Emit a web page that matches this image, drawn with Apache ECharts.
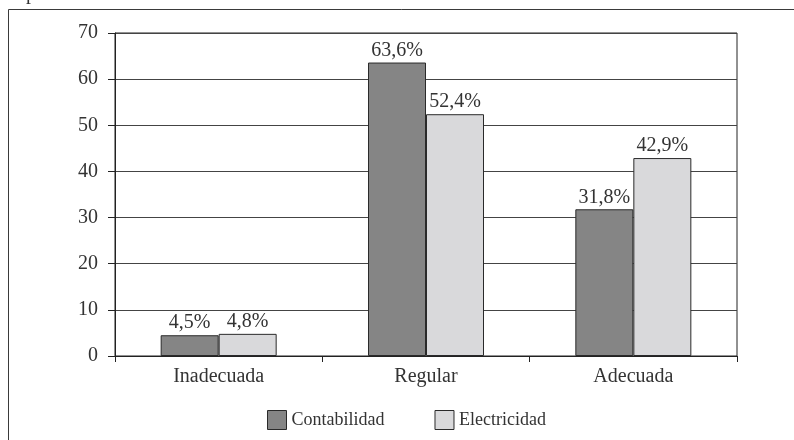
<!DOCTYPE html>
<html>
<head>
<meta charset="utf-8">
<script src="https://cdn.jsdelivr.net/npm/echarts@6/dist/echarts.min.js"></script>
<style>
  html, body { margin: 0; padding: 0; background: #fff; }
  #chart { width: 794px; height: 440px; }
</style>
</head>
<body>
<div id="chart"></div>
<script>
// Valoración por especialidad (%)
const categories = ['Inadecuada', 'Regular', 'Adecuada'];
const contabilidad = [4.5, 63.6, 31.8];
const electricidad = [4.8, 52.4, 42.9];
const yTicks = { min: 0, max: 70, interval: 10 };

const FONT = '"Liberation Serif", "DejaVu Serif", serif';
const fmt = v => String(v).replace('.', ',') + '%';

const chart = echarts.init(document.getElementById('chart'), null, { renderer: 'canvas' });

const labelStyle = {
  show: true,
  position: 'top',
  distance: 2,
  fontFamily: FONT,
  fontSize: 20,
  color: '#333',
  formatter: p => fmt(p.value)
};

chart.setOption({
  animation: false,
  backgroundColor: '#fff',
  graphic: [
    {
      type: 'rect',
      shape: { x: 8.5, y: 9.5, width: 800, height: 450 },
      style: { fill: 'none', stroke: '#3a3a3a', lineWidth: 1 },
      silent: true
    },
    {
      type: 'text',
      left: 26,
      top: -16,
      style: { text: 'p', font: '20px ' + FONT, fill: '#333' },
      silent: true
    }
  ],
  grid: {
    left: 115, right: 57, top: 33, bottom: 84,
    show: true, borderColor: '#222', borderWidth: 1, backgroundColor: 'transparent'
  },
  legend: {
    left: 262,
    top: 405,
    itemWidth: 19,
    itemHeight: 19,
    itemGap: 50,
    icon: 'rect',
    itemStyle: { borderColor: '#2a2a2a', borderWidth: 1 },
    textStyle: { fontFamily: FONT, fontSize: 18, color: '#333', padding: [0, 0, 0, 0] },
    data: ['Contabilidad', 'Electricidad']
  },
  xAxis: {
    type: 'category',
    data: categories,
    axisLine: { lineStyle: { color: '#222', width: 1 } },
    axisTick: { show: true, length: 6, lineStyle: { color: '#222' } },
    axisLabel: { fontFamily: FONT, fontSize: 20, color: '#333', margin: 11 }
  },
  yAxis: {
    type: 'value',
    min: yTicks.min,
    max: yTicks.max,
    interval: yTicks.interval,
    axisLine: { show: true, lineStyle: { color: '#222', width: 1 } },
    axisTick: { show: true, length: 7, lineStyle: { color: '#222' } },
    axisLabel: { fontFamily: FONT, fontSize: 20, color: '#333', margin: 17 },
    splitLine: { show: true, lineStyle: { color: '#444', width: 1 } }
  },
  series: [
    {
      name: 'Contabilidad',
      type: 'bar',
      data: contabilidad,
      barWidth: 58,
      barGap: '0%',
      itemStyle: { color: '#858585', borderColor: '#2a2a2a', borderWidth: 1 },
      label: labelStyle
    },
    {
      name: 'Electricidad',
      type: 'bar',
      data: electricidad,
      barWidth: 58,
      barGap: '0%',
      itemStyle: { color: '#d9d9db', borderColor: '#2a2a2a', borderWidth: 1 },
      label: labelStyle
    }
  ]
});
</script>
</body>
</html>
